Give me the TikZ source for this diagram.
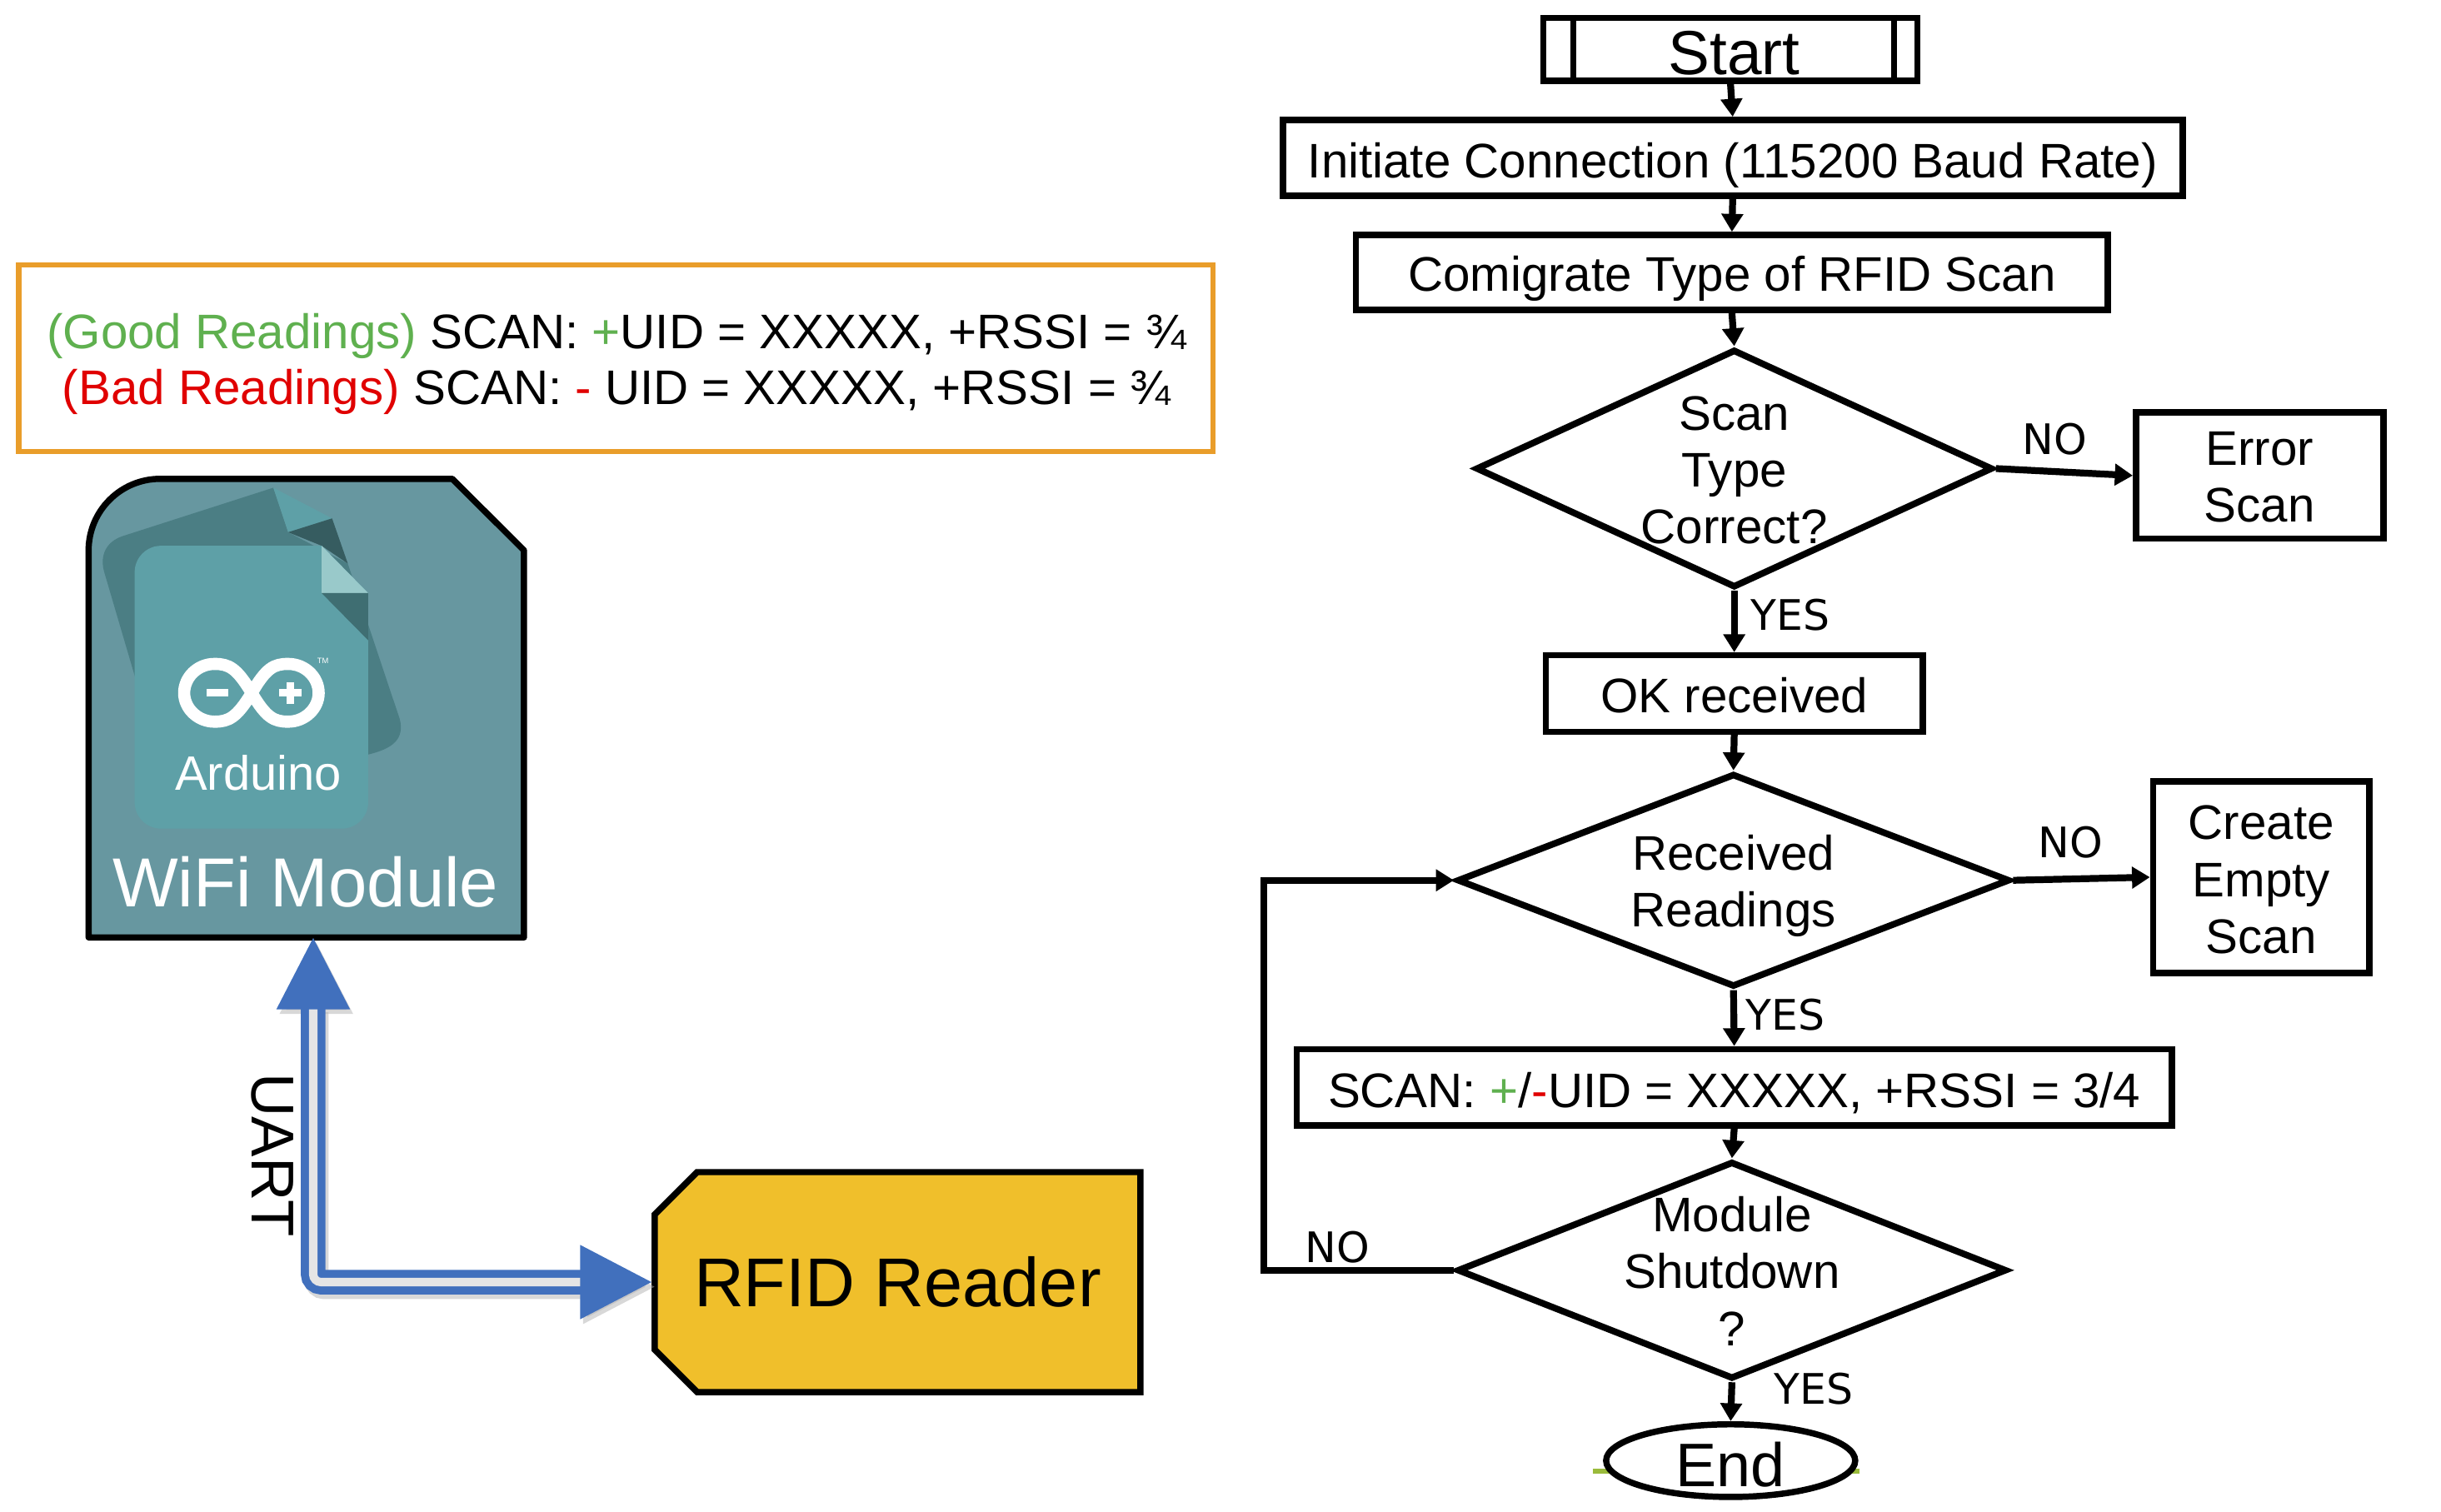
\documentclass[tikz,border=0pt]{standalone}
\usepackage{fontspec}
\setmainfont{Liberation Sans}
\newfontfamily\answerfont{DejaVu Sans}
\usetikzlibrary{arrows.meta,calc,shapes.geometric,shapes.misc}

\definecolor{wifigrey}{HTML}{6797A0}
\definecolor{sheetfront}{HTML}{5EA0A7}
\definecolor{sheetback}{HTML}{4B7E84}
\definecolor{sheetdark}{HTML}{365C60}
\definecolor{foldlight}{HTML}{99C9CA}
\definecolor{folddark}{HTML}{3F6E72}
\definecolor{rfidyellow}{HTML}{F0BF2B}
\definecolor{uartblue}{HTML}{4170BD}
\definecolor{boxorange}{HTML}{E99D2A}
\definecolor{goodgreen}{HTML}{5FB04F}
\definecolor{badred}{HTML}{E00000}
\definecolor{endgreen}{HTML}{9ABB3B}

\tikzset{
	flowfont/.style={font=\fontsize{31.2}{36.5}\selectfont},
	flowbox/.style={draw,line width=4pt,inner sep=0pt,flowfont,align=center},
	singlebox/.style={flowbox,text height=25.5pt,text depth=0pt},
	decision/.style={diamond,draw,line width=4.2pt,inner sep=0pt},
	flowtext/.style={inner sep=0pt,flowfont,align=center},
	answer/.style={inner sep=0pt,font=\answerfont\fontsize{27}{30}\selectfont},
	flowarrow/.style={line width=4.4pt,-{Triangle[length=11.5pt,width=13.5pt]}},
	uartlink/.style={line width=5.2pt,double=#1,double distance=5.4pt,rounded corners=5pt,
		{Triangle[length=46pt,width=46pt]}-{Triangle[length=46pt,width=46.5pt]}},
	bigwhite/.style={inner sep=0pt,text=white,anchor=base},
}

\begin{document}
\begin{tikzpicture}[x=1pt,y=-1pt]
	\useasboundingbox (0,0) rectangle (1568,970.8);

	\node[draw=boxorange,line width=3.3pt,minimum width=767pt,minimum height=120pt,inner sep=0pt] (readings) at (395.5,230) {};
	\node[inner sep=0pt,font=\fontsize{31.2}{36}\selectfont,align=center] (readingstext) at (396,234)
		{\textcolor{goodgreen}{(Good Readings)} SCAN: \textcolor{goodgreen}{+}UID = XXXXX, +RSSI = ¾\\
		\textcolor{badred}{(Bad Readings)} SCAN: \textcolor{badred}{-} UID = XXXXX, +RSSI = ¾};

	\draw[line width=4pt,fill=wifigrey,line join=round] (56.9,602.2) [rounded corners=46pt] -- (56.9,307.6)
		[sharp corners] -- (290.5,307.6) -- (336.6,353.5) -- (336.6,602.2) -- cycle;
	\node[minimum width=279.7pt,minimum height=294.6pt,inner sep=0pt] (wifi) at (196.75,454.9) {};

	\fill[sheetback] (175.6,313.3) -- (78.8,344.4) .. controls (68,348) and (64,357) .. (66.9,367.3)
		-- (100,480) -- (236.5,484.7) .. controls (252,481) and (260,475) .. (256.8,462) -- (223.4,362) -- (185.1,341.9) -- cycle;
	\fill[sheetfront] (175.6,313.3) -- (213.3,333) -- (185.1,341.9) -- cycle;
	\fill[sheetdark] (185.1,341.9) -- (213.3,333) -- (223.4,362) -- (206.6,350.6) -- cycle;
	\fill[sheetfront,rounded corners=17pt] (86.5,532.3) -- (86.5,350.6) -- (150,350.6) [sharp corners] -- (206.6,350.6)
		-- (236.5,381) [rounded corners=17pt] -- (236.5,532.3) -- cycle;
	\fill[foldlight] (206.6,350.6) -- (236.5,381) -- (206.6,381) -- cycle;
	\fill[folddark] (206.6,381) -- (236.5,381) -- (236.5,411.3) -- cycle;

	\draw[white,line width=7.8pt] (161.7,445.2) .. controls (152,429) and (147,426.5) .. (137.8,426.5)
		.. controls (127,426.5) and (118.3,435) .. (118.3,445.2) .. controls (118.3,455) and (127,463.6) .. (137.8,463.6)
		.. controls (147,463.6) and (152,461) .. (161.7,445.2) .. controls (171,429) and (176,426.5) .. (185.1,426.5)
		.. controls (196,426.5) and (204.7,435) .. (204.7,445.2) .. controls (204.7,455) and (196,463.6) .. (185.1,463.6)
		.. controls (176,463.6) and (171,461) .. (161.7,445.2) -- cycle;
	\fill[white] (132.6,442.4) rectangle (146.4,447.5);
	\fill[white] (179.2,442.8) rectangle (193.5,447.5);
	\fill[white] (184,438.4) rectangle (188.7,452.1);
	\node[inner sep=0pt,text=white,font=\fontsize{5}{6}\selectfont] (tm) at (207.4,424.6) {TM};
	\node[bigwhite,font=\fontsize{31}{36}\selectfont] (arduino) at (165.9,507.5) {Arduino};
	\node[bigwhite,font=\fontsize{44.6}{50}\selectfont] (wifitext) at (196.3,582.5) {WiFi Module};

	\node[chamfered rectangle,chamfered rectangle corners={north west,south west},
		chamfered rectangle xsep=13.3pt,chamfered rectangle ysep=13.9pt,draw,line width=4pt,fill=rfidyellow,
		minimum width=312pt,minimum height=141.3pt,inner sep=0pt,font=\fontsize{44.4}{50}\selectfont] (rfid) at (576.6,823.6) {RFID Reader};

	\draw[uartlink=black!12,black!30,opacity=.5,transform canvas={xshift=2pt,yshift=-3pt}] ([xshift=4.45pt]wifi.south) |- (rfid.west);
	\draw[uartlink=black!10,uartblue] ([xshift=4.45pt]wifi.south) |- (rfid.west);
	\node[inner sep=0pt,rotate=-90,font=\fontsize{38.8}{44}\selectfont] (uart) at (174.9,742) {UART};

	\node[flowbox,minimum width=240.3pt,minimum height=40.4pt] (start) at (1111.6,31.8) {};
	\node[inner sep=0pt,font=\fontsize{40}{46}\selectfont] (starttext) at (1114,34) {Start};
	\draw[line width=3.8pt] ([xshift=21.2pt]start.north west) -- ([xshift=21.2pt]start.south west);
	\draw[line width=3.8pt] ([xshift=-17pt]start.north east) -- ([xshift=-17pt]start.south east);
	\node[singlebox,minimum width=578pt,minimum height=48.8pt,text height=26pt] (init) at (1113,101.4) {Initiate Connection (115200 Baud Rate)};
	\node[singlebox,minimum width=483pt,minimum height=48.2pt,text height=24.5pt] (comi) at (1112.5,175) {Comigrate Type of RFID Scan};
	\node[decision,minimum width=332pt,minimum height=153pt] (chk) at (1114,301) {};
	\node[flowtext] (chktext) at (1114,302) {Scan\\Type\\Correct?};
	\node[flowbox,minimum width=159pt,minimum height=81pt] (err) at (1451.5,305.5) {\rule{0pt}{23.5pt}Error\\Scan};
	\node[singlebox,minimum width=242pt,minimum height=49pt,text height=25pt] (ok) at (1114,445.5) {OK received};
	\node[decision,minimum width=355pt,minimum height=137pt] (rec) at (1113.5,565.5) {};
	\node[flowtext] (rectext) at (1113.5,569) {Received\\Readings};
	\node[flowbox,minimum width=139pt,minimum height=123pt] (create) at (1452.5,563.5) {\rule{0pt}{25pt}Create\\Empty\\Scan};
	\node[singlebox,minimum width=562pt,minimum height=49pt,text height=26pt] (scan) at (1114,698.5)
		{SCAN: \textcolor{goodgreen}{+}/\textcolor{badred}{-}UID = XXXXX, +RSSI = 3/4};
	\node[decision,minimum width=353pt,minimum height=139.7pt] (shut) at (1112.5,816) {};
	\node[flowtext] (shuttext) at (1112.5,816.5) {Module\\Shutdown\\?};
	\draw[endgreen,line width=3.2pt] (1023.3,945.3) -- (1194.4,945.3);
	\node[ellipse,draw,line width=4pt,fill=white,inner sep=0pt,minimum width=160pt,minimum height=45pt,
		text height=33pt,text depth=0pt,font=\fontsize{39.5}{44}\selectfont] (finish) at (1111.7,938.3) {End};
	\coordinate (loopcorner) at (812,816);

	\draw[flowarrow] (start.south) -- (init.north);
	\draw[flowarrow] (init.south) -- (comi.north);
	\draw[flowarrow] (comi.south) -- (chk.north);
	\draw[flowarrow] (chk.east) -- (err.west);
	\draw[flowarrow] (chk.south) -- (ok.north);
	\draw[flowarrow] (ok.south) -- (rec.north);
	\draw[flowarrow] (rec.east) -- (create.west);
	\draw[flowarrow] (rec.south) -- (scan.north);
	\draw[flowarrow] (scan.south) -- (shut.north);
	\draw[flowarrow] (shut.south) -- (finish.north);
	\draw[flowarrow] (shut.west) -- (loopcorner) |- (rec.west);

	\node[answer] (no1) at (1320,282) {NO};
	\node[answer] (yes1) at (1150,395) {YES};
	\node[answer] (no2) at (1330,541) {NO};
	\node[answer] (yes2) at (1147,652) {YES};
	\node[answer] (no3) at (859,801) {NO};
	\node[answer] (yes3) at (1165,892) {YES};
\end{tikzpicture}
\end{document}
